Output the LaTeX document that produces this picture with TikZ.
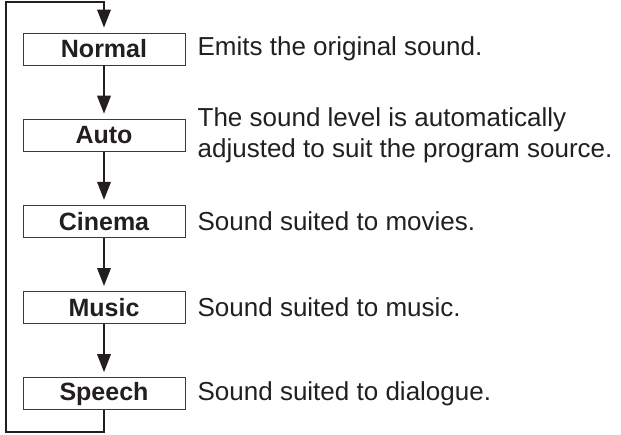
\documentclass[tikz,border=0pt]{standalone}
\usepackage{fontspec}
\setmainfont{Liberation Sans}
\usepackage{xcolor}
\usetikzlibrary{arrows.meta,positioning}
\definecolor{ink}{HTML}{231F20}
\definecolor{boxline}{HTML}{3A3A3A}

\begin{document}
\begin{tikzpicture}[x=1pt,y=1pt,node distance=53.25pt and 12pt]
    \tikzset{
      mode/.style={draw=boxline,line width=0.9pt,minimum width=162pt,minimum height=32pt,inner sep=0pt,font=\fontsize{25}{30}\selectfont\bfseries,text=ink},
      note/.style={anchor=west,align=left,inner sep=0pt,font=\fontsize{26}{31}\selectfont,text=ink},
      flow/.style={-{Triangle[length=18pt,width=13.5pt]},draw=ink,line width=2pt,shorten >=5pt}
    }
    \useasboundingbox (0,0) rectangle (621,-434);
    \node[mode] (normal) at (104,-49) {Normal};
    \node[mode,below=of normal] (auto) {Auto};
    \node[mode,below=of auto] (cinema) {Cinema};
    \node[mode,below=of cinema] (music) {Music};
    \node[mode,below=of music] (speech) {Speech};
    \node[note,right=of normal] (normaltxt) {Emits the original sound.};
    \node[note,right=of auto] (autotxt) {The sound level is automatically\\adjusted to suit the program source.};
    \node[note,right=of cinema] (cinematxt) {Sound suited to movies.};
    \node[note,right=of music] (musictxt) {Sound suited to music.};
    \node[note,right=of speech] (speechtxt) {Sound suited to dialogue.};
    % loop back to the top
    \coordinate (loopbottom) at (6,-432);
    \coordinate (looptop) at (6,-2);
    \draw[flow] (normal) -- (auto);
    \draw[flow] (auto) -- (cinema);
    \draw[flow] (cinema) -- (music);
    \draw[flow] (music) -- (speech);
    \draw[flow] (speech.south) |- (loopbottom) -- (looptop) -| (normal.north);
  \end{tikzpicture}
\end{document}
